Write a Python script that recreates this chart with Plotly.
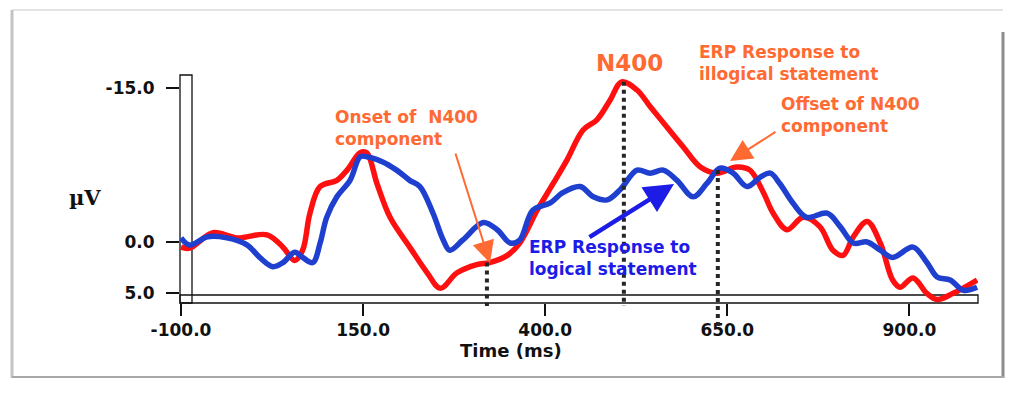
import plotly.graph_objects as go

# ---------------- data ----------------
illogical_t = [-100, -88, -56, -23, 18, 40, 56, 67, 77, 91, 114, 128, 146, 155, 169, 187, 214, 238,
               256, 279, 306, 324, 348, 365, 389, 411, 430, 452, 471, 489, 505, 526, 544, 567, 589,
               613, 636, 663, 681, 699, 713, 732, 754, 777, 795, 809, 823, 842, 860, 877, 887, 905,
               924, 938, 960, 993]
illogical_v = [0.5, 0.6, -0.9, -0.4, -0.7, 0.5, 1.8, 0.8, -2.8, -5.4, -6.0, -7.0, -8.7, -8.7, -5.7,
               -2.4, 0.5, 3.0, 4.5, 3.0, 2.2, 2.0, 1.3, 0.1, -3.1, -5.7, -8.0, -10.9, -11.9, -13.8,
               -15.6, -14.8, -13.2, -11.2, -9.3, -7.3, -6.7, -7.3, -7.0, -4.9, -2.8, -1.2, -2.4,
               -1.5, 0.8, 1.3, -0.5, -2.0, 0.1, 3.7, 4.4, 3.5, 5.0, 5.6, 5.0, 3.7]

logical_t = [-100, -88, -64, -37, -9, 8, 26, 40, 56, 67, 81, 91, 100, 114, 132, 146, 155, 177, 196,
             214, 228, 246, 260, 269, 287, 315, 334, 352, 365, 383, 407, 424, 448, 466, 485, 503,
             526, 544, 562, 581, 603, 622, 640, 658, 677, 695, 709, 722, 740, 759, 787, 805, 823,
             842, 860, 877, 905, 924, 938, 956, 974, 993]
logical_v = [-0.4, 0.3, -0.5, -0.4, 0.3, 1.5, 2.4, 2.0, 1.0, 1.5, 2.0, 0.1, -2.4, -4.4, -6.0, -8.3,
             -8.3, -7.8, -7.0, -6.0, -5.4, -2.8, -0.2, 0.8, -0.2, -1.9, -1.2, 0.1, -0.2, -3.1, -3.8,
             -4.8, -5.4, -4.4, -4.1, -5.1, -7.0, -6.7, -7.0, -6.0, -4.4, -5.7, -7.2, -6.7, -5.4,
             -6.3, -6.7, -5.7, -3.8, -2.4, -2.8, -1.5, 0.1, 0.0, 0.8, 1.5, 0.5, 2.0, 3.4, 3.7,
             4.7, 4.4]

x_tickvals = [-100, 150, 400, 650, 900]
x_ticktext = ["-100.0", "150.0", "400.0", "650.0", "900.0"]
y_tickvals = [-15, 0, 5]
y_ticktext = ["-15.0", "0.0", "5.0"]

# component markers (time ms, amplitude µV)
marker_t = [320, 508, 637]
marker_v = [2.0, -15.6, -7.0]

# ---------------- layout geometry (screen pixels, page has 8px body margin) ----------------
OFF = 8
W, H = 1015 - OFF, 394 - OFF
L, R, T, B = 180 - OFF, 978 - OFF, 75 - OFF, 303 - OFF
PW, PH = R - L, B - T
MS_PER_PX = 1 / 0.7284
X0 = -100 - (181 - 180) * MS_PER_PX
X1 = X0 + PW * MS_PER_PX
UV_PER_PX = 1 / 10.27
Y_TOP = (75 - 242) * UV_PER_PX
Y_BOT = (303 - 242) * UV_PER_PX


def px(xs):
    return (xs - OFF - L) / PW


def py(ys):
    return (B - (ys - OFF)) / PH


RED = "#ff1010"
BLUE = "#1f3fcf"
ORANGE = "#ff6a33"
TBLUE = "#1c1ce6"
FONT = "DejaVu Sans"

fig = go.Figure()
fig.add_trace(go.Scatter(x=illogical_t, y=illogical_v, mode="lines",
                         line=dict(color=RED, width=5.5, shape="spline", smoothing=1.0),
                         hoverinfo="skip", showlegend=False))
fig.add_trace(go.Scatter(x=logical_t, y=logical_v, mode="lines",
                         line=dict(color=BLUE, width=5.5, shape="spline", smoothing=1.0),
                         hoverinfo="skip", showlegend=False))

shapes = []
# dotted component markers
ends = [306, 306, 330]
for t, v, e in zip(marker_t, marker_v, ends):
    xp = (t - X0) / (X1 - X0)
    shapes.append(dict(type="line", xref="paper", yref="paper", x0=xp, x1=xp,
                       y0=(v - Y_BOT) / (Y_TOP - Y_BOT), y1=py(e),
                       line=dict(color="#262626", width=4, dash="dot"), layer="above"))
# double-line axis boxes
shapes.append(dict(type="rect", xref="paper", yref="paper", x0=0, x1=px(192), y0=0, y1=1,
                   line=dict(color="#111", width=1.3), layer="below"))
shapes.append(dict(type="rect", xref="paper", yref="paper", x0=0, x1=1, y0=0, y1=py(295),
                   line=dict(color="#111", width=1.3), layer="below"))
# outer frame with shadow
shapes += [
    dict(type="line", xref="paper", yref="paper", x0=px(12), x1=px(1003), y0=py(10), y1=py(10),
         line=dict(color="#e4e4e4", width=2)),
    dict(type="line", xref="paper", yref="paper", x0=px(12), x1=px(12), y0=py(10), y1=py(378),
         line=dict(color="#c4c4c4", width=3)),
    dict(type="line", xref="paper", yref="paper", x0=px(1003), x1=px(1003), y0=py(32), y1=py(378),
         line=dict(color="#8c8c8c", width=3)),
    dict(type="line", xref="paper", yref="paper", x0=px(12), x1=px(1004), y0=py(377), y1=py(377),
         line=dict(color="#a8a8a8", width=2)),
]

annotations = []
# two-line text blocks: (text, left x, baseline of line 1, baseline of line 2, colour)
texts = [
    ("ERP Response to<br>illogical statement", 697, 60, 78, ORANGE),
    ("Offset of N400<br>component", 779, 112, 130, ORANGE),
    ("Onset of\u00a0 N400<br>component", 333, 125, 143, ORANGE),
    ("ERP Response to<br>logical statement", 527, 255, 272, TBLUE),
]
for txt, xl, b1, b2, col in texts:
    annotations.append(dict(text=txt, xref="paper", yref="paper", x=px(xl),
                            y=py((b1 + b2) / 2 - 6), align="left",
                            xanchor="left", yanchor="middle", showarrow=False,
                            font=dict(family=FONT, size=17, color=col, weight="bold")))
annotations.append(dict(text="N400", xref="paper", yref="paper", x=px(629), y=py(63),
                        xanchor="center", yanchor="middle", showarrow=False,
                        font=dict(family=FONT, size=23, color=ORANGE, weight="bold")))
annotations.append(dict(text="\u00b5V", xref="paper", yref="paper", x=px(85), y=py(197),
                        xanchor="center", yanchor="middle", showarrow=False,
                        font=dict(family="DejaVu Serif", size=21, color="#111", weight="bold")))
annotations.append(dict(text="Time (ms)", xref="paper", yref="paper", x=px(511), y=py(350),
                        xanchor="center", yanchor="middle", showarrow=False,
                        font=dict(family=FONT, size=18, color="#111", weight="bold")))
# arrows
arrows = [
    (490, 263, 455, 152, ORANGE, 2, 2.2),
    (730, 161, 777, 131, ORANGE, 2, 2.2),
    (674, 184, 588, 238, TBLUE, 4.5, 1.3),
]
for hx, hy, tx, ty, col, w, s in arrows:
    annotations.append(dict(text="", xref="paper", yref="paper", x=px(hx), y=py(hy),
                            ax=tx - hx, ay=ty - hy, showarrow=True, arrowhead=2,
                            arrowwidth=w, arrowsize=s, arrowcolor=col))

fig.update_layout(
    width=W, height=H,
    margin=dict(l=L, r=W - R, t=T, b=H - B, pad=0),
    paper_bgcolor="white", plot_bgcolor="white",
    shapes=shapes, annotations=annotations,
    xaxis=dict(range=[X0, X1], tickvals=x_tickvals, ticktext=x_ticktext,
               showgrid=False, zeroline=False, showline=False,
               ticks="outside", ticklen=12, tickwidth=1.5, tickcolor="#111",
               tickfont=dict(family=FONT, size=17, color="#111", weight="bold")),
    yaxis=dict(range=[Y_BOT, Y_TOP], tickvals=y_tickvals, ticktext=y_ticktext,
               showgrid=False, zeroline=False, showline=False,
               ticks="outside", ticklen=13, tickwidth=1.5, tickcolor="#111",
               ticklabelstandoff=8,
               tickfont=dict(family=FONT, size=17, color="#111", weight="bold")),
)

fig.write_html("out.html")
